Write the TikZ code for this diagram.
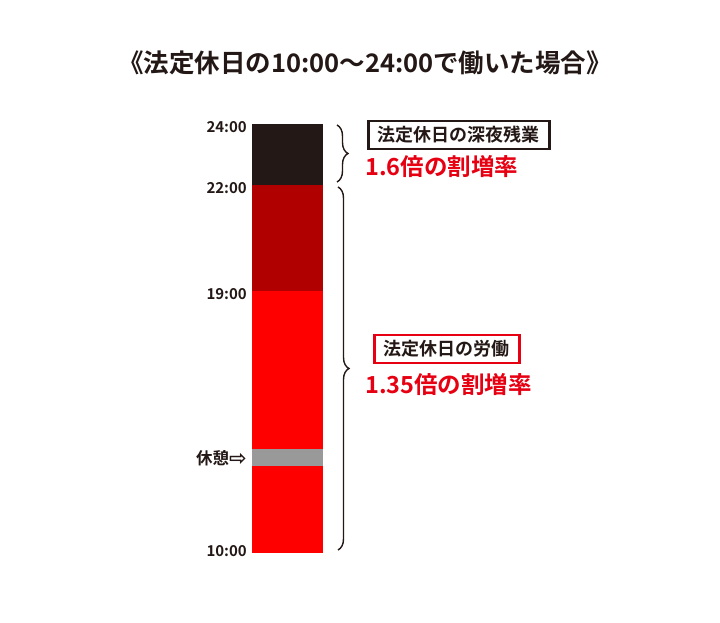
\documentclass[tikz,border=0pt]{standalone}
\usepackage{fontspec}
\usetikzlibrary{decorations.pathreplacing}
\newfontfamily\jp{Noto Sans CJK JP}[BoldFont={Noto Sans CJK JP Bold}]
\newfontfamily\sym{DejaVu Sans}
\definecolor{inkblack}{HTML}{231815}
\definecolor{barblack}{HTML}{231815}
\definecolor{bardark}{HTML}{B00000}
\definecolor{barred}{HTML}{FF0000}
\definecolor{bargray}{HTML}{999999}
\definecolor{txtred}{HTML}{E60012}
\begin{document}
\begin{tikzpicture}[x=1pt,y=-1pt,
  every node/.style={font=\jp\bfseries, text=inkblack, inner sep=0pt},
  ticklbl/.style={anchor=east, font=\jp\bfseries\fontsize{15}{15}\selectfont},
  catbox/.style={draw, line width=2.6pt, anchor=west, minimum height=28pt, inner xsep=9pt,
                 font=\jp\bfseries\fontsize{18}{18}\selectfont},
  ratelbl/.style={anchor=west, text=txtred, font=\jp\bfseries\fontsize{23.5}{23.5}\selectfont},
  bracebr/.style={draw=inkblack, line width=1.4pt, decorate, decoration={brace, amplitude=11pt}},
  seg/.style={draw=none}
]
\useasboundingbox (0,0) rectangle (720,623);
\fill[white] (0,0) rectangle (720,623);

% title
\node (title) at (365,63) {\fontsize{25.5}{25.5}\selectfont 《法定休日の10:00～24:00で働いた場合》};

% bar segments
\fill[barblack] (252,124) rectangle (323,185);
\fill[bardark]  (252,185) rectangle (323,291);
\fill[barred]   (252,291) rectangle (323,449);
\fill[bargray]  (252,449) rectangle (323,466);
\fill[barred]   (252,466) rectangle (323,553);

% tick labels
\node[ticklbl] (t24) at (247,127) {24:00};
\node[ticklbl] (t22) at (247,188) {22:00};
\node[ticklbl] (t19) at (247,294) {19:00};
\node[ticklbl] (t10) at (247,551) {10:00};
\node[ticklbl, font=\jp\bfseries\fontsize{16.5}{16.5}\selectfont] (rest) at (247,458) {休憩\raisebox{-1pt}{\sym\fontsize{21}{21}\selectfont ⇨}};

% braces
\coordinate (b1s) at (337,125);
\coordinate (b1e) at (337,182);
\coordinate (b2s) at (338,187);
\coordinate (b2e) at (338,550);
\draw[bracebr] (b1s) -- (b1e);
\draw[bracebr] (b2s) -- (b2e);

% category boxes
\node[catbox, draw=inkblack, minimum width=181pt] (box1) at (367,135) {法定休日の深夜残業};
\node[catbox, draw=txtred, minimum width=145pt] (box2) at (373,349) {法定休日の労働};

% rates
\node[ratelbl] (r1) at (365,167) {1.6倍の割増率};
\node[ratelbl] (r2) at (365,385) {1.35倍の割増率};
\end{tikzpicture}
\end{document}
